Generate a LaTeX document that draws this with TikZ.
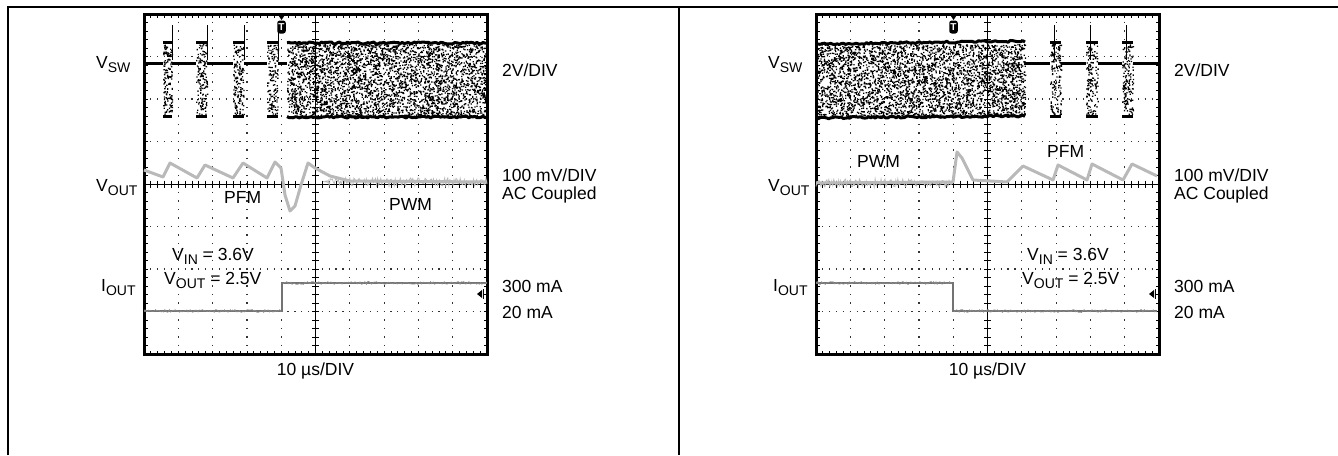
\documentclass[tikz,border=0pt]{standalone}
\usepackage{fontspec}
\setmainfont{Liberation Sans}
\newcommand\lo[1]{\raisebox{-4pt}{\fontsize{14}{14}\selectfont #1}}
\tikzset{
  lbl/.style={font=\fontsize{17.5}{20}\selectfont, inner sep=0pt},
  rim/.style={line width=3pt},
  hdots/.style={black!80, line width=1.2pt, dash pattern=on 1.2pt off 5.66pt, dash phase=0.6pt},
  vdots/.style={black!80, line width=1.2pt, dash pattern=on 1.2pt off 7.3pt, dash phase=0.6pt},
  tickmark/.style={line width=0.8pt},
  vtrace/.style={gray!55, line width=3pt, line join=round},
  vnoise/.style={gray!55, line width=0.8pt},
  itrace/.style={black!55, line width=2.6pt},
  inoise/.style={black!45, line width=0.6pt},
  edge/.style={line width=3pt, line join=round},
}
\begin{document}
\begin{tikzpicture}[x=1pt, y=-1pt]
    \useasboundingbox (0,0) rectangle (1338,455);
    \draw[line width=1.2pt] (8,455) -- (8,7) -- (1338,7);
    \draw[line width=1.2pt] (679,7) -- (679,455);

    \foreach \p/\s in {L/0pt, R/672pt} {
        \begin{scope}[xshift=\s]
            \foreach \k in {1,2,3,4,6,7,8,9}
                \draw[vdots] ({144+34.3*\k},14) -- ({144+34.3*\k},354);
            \foreach \k in {1,2,3,5,6,7}
                \draw[hdots] (144,{14+42.5*\k}) -- (487,{14+42.5*\k});
            \draw[line width=0.5pt] (144,184) -- (487,184);
            \draw[line width=0.5pt] (315.5,14) -- (315.5,354);
            \foreach \k in {1,...,49} {
                \draw[tickmark] ({144+6.86*\k},14) -- ++(0,3.5);
                \draw[tickmark] ({144+6.86*\k},354) -- ++(0,-3.5);
                \draw[tickmark] ({144+6.86*\k},180.5) -- ++(0,7);
            }
            \foreach \k in {1,...,39} {
                \draw[tickmark] (144,{14+8.5*\k}) -- ++(3.5,0);
                \draw[tickmark] (487,{14+8.5*\k}) -- ++(-3.5,0);
                \draw[tickmark] (312,{14+8.5*\k}) -- ++(7,0);
            }
            \draw[rim] (144,14) rectangle (487,354);

            \fill (277.5,14) -- (285.5,14) -- (281.5,20) -- cycle;
            \node[fill=black, rounded corners=2.5pt, text=white, inner sep=0pt,
                  font=\fontsize{10}{10}\selectfont\bfseries,
                  minimum width=8.5pt, minimum height=13pt] (\p-trig) at (281.5,27) {T};
            \fill (477,294) -- (482,290) -- (482,298) -- cycle;
            \draw[line width=1.5pt] (483.5,289) -- (483.5,299);

            \node[lbl, anchor=base west] (\p-vsw) at (96,68) {V\lo{SW}};
            \node[lbl, anchor=base west] (\p-vout) at (96,191) {V\lo{OUT}};
            \node[lbl, anchor=base west] (\p-iout) at (101,291) {I\lo{OUT}};
            \node[lbl, anchor=base west] (\p-vdiv) at (502,76) {2V/DIV};
            \node[lbl, anchor=base west] (\p-mvdiv) at (502,181) {100 mV/DIV};
            \node[lbl, anchor=base west] (\p-ac) at (502,199) {AC Coupled};
            \node[lbl, anchor=base west] (\p-hi) at (502,292) {300 mA};
            \node[lbl, anchor=base west] (\p-lo) at (502,318) {20 mA};
            \node[lbl, anchor=base] (\p-time) at (315.5,375) {10 µs/DIV};
        \end{scope}
    }

    \pgfmathsetseed{7}
    \draw[edge] (144,63) -- (163,63) (172,63) -- (196,63) (207,63) -- (233,63)
        (244,63) -- (267,63) (278,63) -- (287,63);
    \foreach \a/\b in {163/172, 196/207, 233/244, 267/278} {
        \fill \foreach \i in {1,...,150} {({\a+(\b-\a)*rnd},{44+70*rnd}) rectangle ++(1.3,1.3)};
        \draw[line width=3pt] (\a,42) -- (\b,42) (\a,116) -- (\b,116);
        \draw[line width=0.8pt] (\b,25) -- (\b,60);
    }
    \fill \foreach \i in {1,...,3500} {({287+200*rnd},{44+72*rnd}) rectangle ++(1.3,1.3)};
    \draw[edge] plot[domain=287:487, samples=100] (\x,{42+2*rnd});
    \draw[edge] plot[domain=287:487, samples=100] (\x,{116+2*rnd});

    \draw[vtrace] (144,170) -- (163,177) -- (170,163) -- (197,178) -- (205,165) -- (233,178)
        -- (243,163) -- (267,178) -- (275,162) -- (281,168) -- (285,195) -- (290,211)
        -- (295,206) -- (301,185) -- (308,163) -- (315,168) -- (330,176) -- (350,181) -- (487,182);
    \draw[vnoise] plot[domain=323:487, samples=160] (\x,{182+8*rnd-4});
    \draw[itrace] (144,311) -- (282,311) -- (282,283) -- (487,283);
    \draw[inoise] plot[domain=144:281, samples=120] (\x,{311+3*rnd-1.5});
    \draw[inoise] plot[domain=283:487, samples=160] (\x,{283+3*rnd-1.5});

    \node[lbl, anchor=base west] (pfmL) at (224,203) {PFM};
    \node[lbl, anchor=base west] (pwmL) at (389,210) {PWM};
    \node[lbl, anchor=base west] (vinL) at (172,260) {V\lo{IN} = 3.6V};
    \node[lbl, anchor=base west] (voutL) at (164,284) {V\lo{OUT} = 2.5V};

    \fill \foreach \i in {1,...,3600} {({816+209*rnd},{44+72*rnd}) rectangle ++(1.3,1.3)};
    \draw[edge] plot[domain=816:1025, samples=100] (\x,{43-(\x-816)/70+2*rnd});
    \draw[edge] plot[domain=816:1025, samples=100] (\x,{117-(\x-816)/100+2*rnd});
    \draw[edge] (1025,63) -- (1050,63) (1061,63) -- (1086,63) (1098,63) -- (1122,63) (1133,63) -- (1158,63);
    \foreach \a/\b in {1050/1061, 1086/1098, 1122/1133} {
        \fill \foreach \i in {1,...,150} {({\a+(\b-\a)*rnd},{44+70*rnd}) rectangle ++(1.3,1.3)};
        \draw[line width=3pt] (\a,42) -- (\b,42) (\a,116) -- (\b,116);
        \draw[line width=0.8pt] (\a+4,25) -- (\a+4,60);
    }

    \draw[vtrace] (816,183) -- (953,182) -- (957,152) -- (962,158) -- (973,180) -- (1007,182)
        -- (1023,166) -- (1053,180) -- (1058,165) -- (1087,180) -- (1092,164) -- (1123,180)
        -- (1132,164) -- (1157,176);
    \draw[vnoise] plot[domain=816:953, samples=140] (\x,{183+8*rnd-4});
    \draw[itrace] (816,283) -- (953,283) -- (953,311) -- (1157,311);
    \draw[inoise] plot[domain=816:952, samples=120] (\x,{283+3*rnd-1.5});
    \draw[inoise] plot[domain=954:1157, samples=160] (\x,{311+3*rnd-1.5});

    \node[lbl, anchor=base west] (pwmR) at (857,167) {PWM};
    \node[lbl, anchor=base west] (pfmR) at (1047,157) {PFM};
    \node[lbl, anchor=base west] (vinR) at (1027,260) {V\lo{IN} = 3.6V};
    \node[lbl, anchor=base west] (voutR) at (1022,284) {V\lo{OUT} = 2.5V};
\end{tikzpicture}
\end{document}
